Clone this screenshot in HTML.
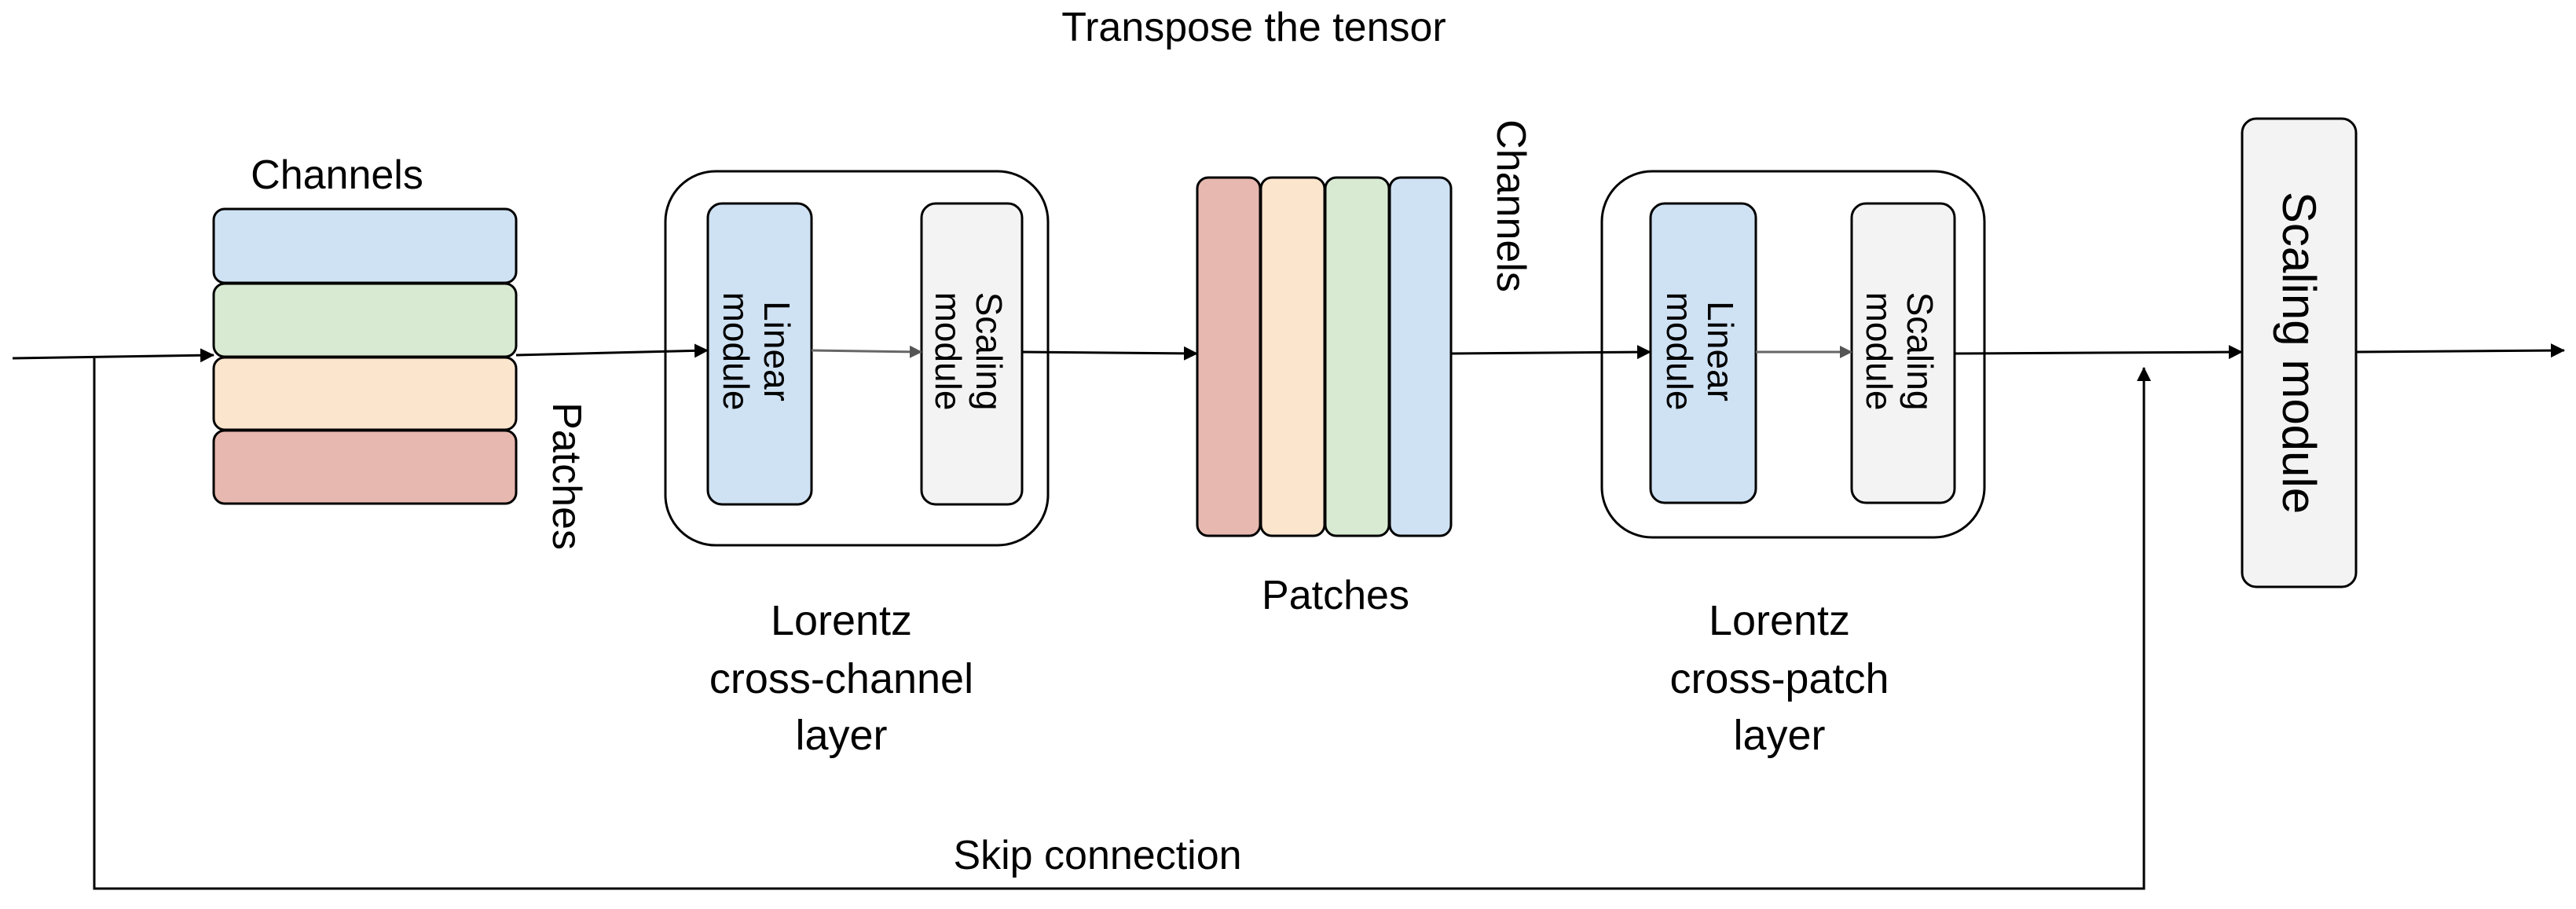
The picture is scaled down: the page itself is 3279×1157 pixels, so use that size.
<!DOCTYPE html>
<html><head><meta charset="utf-8"><style>
html,body{margin:0;padding:0;background:#fff;}
svg{display:block;}
text{font-family:"Liberation Sans",Arial,sans-serif;fill:#000;}
</style></head><body>
<svg width="3279" height="1157" viewBox="0 0 3279 1157" xmlns="http://www.w3.org/2000/svg">
<defs>
<marker id="g" markerWidth="16" markerHeight="16" refX="15" refY="8" orient="auto" markerUnits="userSpaceOnUse" viewBox="0 0 16 16"><path d="M0,0 L16,8 L0,16 z" fill="#555"/></marker>
<marker id="b" markerWidth="18" markerHeight="18" refX="17" refY="9" orient="auto" markerUnits="userSpaceOnUse" viewBox="0 0 18 18"><path d="M0,0 L18,9 L0,18 z" fill="#000"/></marker>
</defs>

<text x="1596" y="52" font-size="52" text-anchor="middle">Transpose the tensor</text>

<!-- skip connection -->
<polyline points="120,456 120,1131 2729,1131 2729,468" fill="none" stroke="#000" stroke-width="3" marker-end="url(#b)"/>
<text x="1397" y="1106" font-size="52" text-anchor="middle">Skip connection</text>

<!-- horizontal stack -->
<text x="429" y="240" font-size="52" text-anchor="middle">Channels</text>
<rect x="272" y="266" width="385" height="94" rx="14" fill="#cfe2f3" stroke="#000" stroke-width="3"/>
<rect x="272" y="361" width="385" height="93" rx="14" fill="#d9ead3" stroke="#000" stroke-width="3"/>
<rect x="272" y="455" width="385" height="92" rx="14" fill="#fce5cd" stroke="#000" stroke-width="3"/>
<rect x="272" y="548" width="385" height="93" rx="14" fill="#e6b8af" stroke="#000" stroke-width="3"/>
<text transform="translate(722,606) rotate(90)" font-size="52" text-anchor="middle" dy="18">Patches</text>

<!-- layer 1 -->
<rect x="847" y="218" width="487" height="476" rx="64" fill="#fff" stroke="#000" stroke-width="3"/>
<rect x="901" y="259" width="132" height="383" rx="18" fill="#cfe2f3" stroke="#000" stroke-width="3"/>
<rect x="1173" y="259" width="128" height="383" rx="18" fill="#f3f3f3" stroke="#000" stroke-width="3"/>
<text transform="translate(967,447) rotate(90)" font-size="46" text-anchor="middle"><tspan x="0" dy="-6">Linear</tspan><tspan x="0" dy="52">module</tspan></text>
<text transform="translate(1237,447) rotate(90)" font-size="46" text-anchor="middle"><tspan x="0" dy="-6">Scaling</tspan><tspan x="0" dy="52">module</tspan></text>
<line x1="1033" y1="446" x2="1173" y2="448" stroke="#666" stroke-width="3" marker-end="url(#g)"/>
<text x="1071" y="808" font-size="54" text-anchor="middle">Lorentz</text>
<text x="1071" y="882" font-size="54" text-anchor="middle">cross-channel</text>
<text x="1071" y="954" font-size="54" text-anchor="middle">layer</text>

<!-- vertical stack -->
<rect x="1524" y="226" width="80" height="456" rx="14" fill="#e6b8af" stroke="#000" stroke-width="3"/>
<rect x="1605" y="226" width="81" height="456" rx="14" fill="#fce5cd" stroke="#000" stroke-width="3"/>
<rect x="1687" y="226" width="81" height="456" rx="14" fill="#d9ead3" stroke="#000" stroke-width="3"/>
<rect x="1769" y="226" width="78" height="456" rx="14" fill="#cfe2f3" stroke="#000" stroke-width="3"/>
<text transform="translate(1924,262) rotate(90)" font-size="52" text-anchor="middle" dy="18">Channels</text>
<text x="1700" y="775" font-size="52" text-anchor="middle">Patches</text>

<!-- layer 2 -->
<rect x="2039" y="218" width="487" height="466" rx="64" fill="#fff" stroke="#000" stroke-width="3"/>
<rect x="2101" y="259" width="134" height="381" rx="18" fill="#cfe2f3" stroke="#000" stroke-width="3"/>
<rect x="2357" y="259" width="131" height="381" rx="18" fill="#f3f3f3" stroke="#000" stroke-width="3"/>
<text transform="translate(2168,447) rotate(90)" font-size="46" text-anchor="middle"><tspan x="0" dy="-6">Linear</tspan><tspan x="0" dy="52">module</tspan></text>
<text transform="translate(2422,447) rotate(90)" font-size="46" text-anchor="middle"><tspan x="0" dy="-6">Scaling</tspan><tspan x="0" dy="52">module</tspan></text>
<line x1="2235" y1="448" x2="2357" y2="448" stroke="#666" stroke-width="3" marker-end="url(#g)"/>
<text x="2265" y="808" font-size="54" text-anchor="middle">Lorentz</text>
<text x="2265" y="882" font-size="54" text-anchor="middle">cross-patch</text>
<text x="2265" y="954" font-size="54" text-anchor="middle">layer</text>

<!-- big scaling module -->
<rect x="2854" y="151" width="145" height="596" rx="18" fill="#f3f3f3" stroke="#000" stroke-width="3"/>
<text transform="translate(2926,449) rotate(90)" font-size="60" text-anchor="middle" dy="20">Scaling module</text>

<!-- main flow arrows (on top) -->
<line x1="16" y1="456" x2="272" y2="452" stroke="#000" stroke-width="3" marker-end="url(#b)"/>
<line x1="657" y1="452" x2="901" y2="446" stroke="#000" stroke-width="3" marker-end="url(#b)"/>
<line x1="1301" y1="448" x2="1524" y2="450" stroke="#000" stroke-width="3" marker-end="url(#b)"/>
<line x1="1847" y1="450" x2="2101" y2="448" stroke="#000" stroke-width="3" marker-end="url(#b)"/>
<line x1="2488" y1="450" x2="2854" y2="448" stroke="#000" stroke-width="3" marker-end="url(#b)"/>
<line x1="2999" y1="448" x2="3264" y2="446" stroke="#000" stroke-width="3" marker-end="url(#b)"/>
</svg>
</body></html>
